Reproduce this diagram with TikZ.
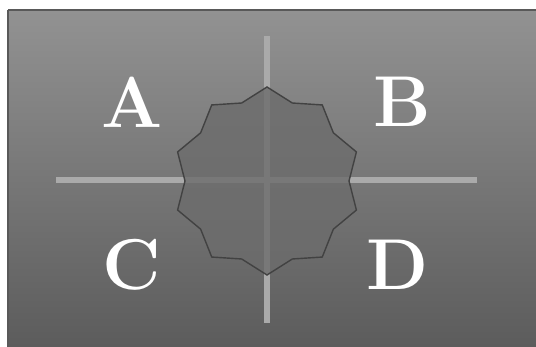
\documentclass[tikz,border=0pt]{standalone}
\usepackage{tikz}
\usepackage{xcolor}

\definecolor{bgtop}{RGB}{146,146,146}
\definecolor{bgbottom}{RGB}{92,92,92}
\definecolor{crossgray}{RGB}{170,170,170}
\definecolor{starfill}{RGB}{108,108,108}
\definecolor{staredge}{RGB}{66,66,66}

\tikzset{
  quadlabel/.style={text=white, font=\fontsize{41}{41}\selectfont\bfseries, inner sep=0pt},
  crossline/.style={crossgray, line width=3.5pt}
}

\begin{document}
\begin{tikzpicture}[x=0.02cm, y=0.02cm]
  \useasboundingbox (0,0) rectangle (536,347);
  \fill[white] (0,0) rectangle (536,347);
  \shade[top color=bgtop, bottom color=bgbottom] (8,0) rectangle (536,337);
  \draw[gray!70!black, line width=0.6pt] (8,337) -- (536,337);
  \draw[gray!70!black, line width=0.6pt] (8,0) -- (8,337);

  % cross
  \coordinate (west) at (56,167);
  \coordinate (east) at (477,167);
  \coordinate (north) at (267,311);
  \coordinate (south) at (267,24);
  \draw[crossline] (west) -- (east);
  \draw[crossline] (north) -- (south);

  % ten-pointed star
  \begin{scope}[shift={(267,166)}]
    \filldraw[fill=starfill, fill opacity=0.8, draw=staredge, line width=0.8pt]
      (90:94) \foreach \k in {0,...,9} { -- ({108+36*\k}:82) -- ({126+36*\k}:94) } -- cycle;
  \end{scope}

  \node[quadlabel] (A) at (132,245) {A};
  \node[quadlabel] (B) at (402,245) {B};
  \node[quadlabel] (C) at (132,82) {C};
  \node[quadlabel] (D) at (398,82) {D};
\end{tikzpicture}
\end{document}
